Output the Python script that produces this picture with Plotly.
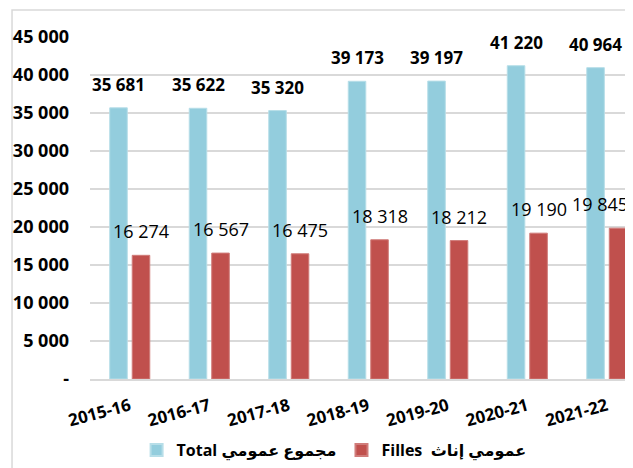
import plotly.graph_objects as go

categories = ["2015-16", "2016-17", "2017-18", "2018-19", "2019-20", "2020-21", "2021-22"]
total_values = [35681, 35622, 35320, 39173, 39197, 41220, 40964]
filles_values = [16274, 16567, 16475, 18318, 18212, 19190, 19845]
total_name = "Total مجموع عمومي"
filles_name = "Filles  عمومي إناث"
y_tickvals = [0, 5000, 10000, 15000, 20000, 25000, 30000, 35000, 40000, 45000]
y_ticktext = ["-", "5 000", "10 000", "15 000", "20 000", "25 000", "30 000", "35 000", "40 000", "45 000"]


def fmt(v):
    return f"{v:,}".replace(",", " ")


FONT = "Open Sans, Noto Sans, DejaVu Sans, sans-serif"
BLUE = "#93CDDD"
RED = "#C0504D"

fig = go.Figure()
fig.add_trace(go.Bar(x=categories, y=total_values, name=total_name,
                     marker=dict(color=BLUE, line=dict(color="#B7DEE8", width=1))))
fig.add_trace(go.Bar(x=categories, y=filles_values, name=filles_name,
                     marker=dict(color=RED, line=dict(color="#D07C7A", width=1))))

annotations = []
for c, v in zip(categories, total_values):
    annotations.append(dict(x=c, y=v, xref="x", yref="y", text=fmt(v), showarrow=False,
                            xshift=-11.25, yshift=10, yanchor="bottom", xanchor="center",
                            font=dict(family=FONT, size=17, color="#000000", weight="bold")))
n = len(categories)
for i, (c, v) in enumerate(zip(categories, filles_values)):
    last = i == n - 1
    annotations.append(dict(x=c, y=v, xref="x", yref="y", text=fmt(v), showarrow=False,
                            xshift=-37 if last else 11.25, yshift=10, yanchor="bottom",
                            xanchor="left" if last else "center",
                            font=dict(family=FONT, size=18, color="#000000")))

fig.update_layout(
    width=633, height=468,
    margin=dict(l=82, r=0, t=29, b=97, autoexpand=False),
    paper_bgcolor="white", plot_bgcolor="white",
    barmode="group", bargap=0.434, bargroupgap=0.22,
    font=dict(family=FONT, color="#000000"),
    annotations=annotations,
    showlegend=True,
    legend=dict(orientation="h", x=0.443, xanchor="center", y=-0.2076, yanchor="middle",
                font=dict(family=FONT, size=16, color="#000000", weight="bold"),
                bgcolor="rgba(0,0,0,0)", itemsizing="constant", traceorder="normal"),
    shapes=[dict(type="rect", xref="paper", yref="paper", x0=-0.1415, x1=1.5, y0=-0.6, y1=1.079,
                 line=dict(color="#D9D9D9", width=1.5), fillcolor="rgba(0,0,0,0)", layer="below")],
)
fig.update_xaxes(range=[-0.5, 6.43], tickangle=-15, showgrid=False, showline=True,
                 linecolor="#D9D9D9", linewidth=2, ticks="", ticklabelstandoff=9,
                 tickfont=dict(family=FONT, size=17, color="#000000", weight="bold"))
fig.update_yaxes(range=[0, 45000], tickvals=y_tickvals, ticktext=y_ticktext,
                 showgrid=True, gridcolor="#D9D9D9", gridwidth=2, zeroline=False,
                 showline=False, ticks="", ticklabelstandoff=20,
                 tickfont=dict(family=FONT, size=18, color="#000000", weight="bold"))

fig.write_html("out.html")
